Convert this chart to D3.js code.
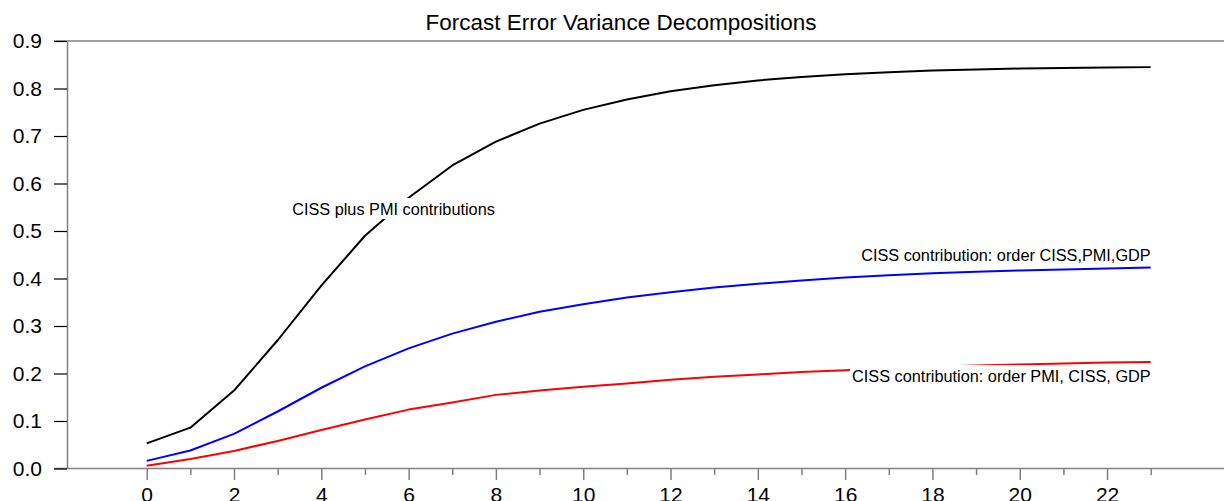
<!DOCTYPE html>
<html>
<head>
<meta charset="utf-8">
<script src="https://cdn.jsdelivr.net/npm/d3@7/dist/d3.min.js"></script>
<style>
  html, body { margin: 0; padding: 0; background: #fff; }
  svg { display: block; font-family: Arial, "Liberation Sans", Helvetica, sans-serif; }
</style>
</head>
<body>
<svg id="chart" width="1224" height="501"></svg>
<script>
// Forecast horizons (quarters)
const horizons = d3.range(0, 24);

// Share of forecast error variance explained
const cissPlusPmi = [0.053, 0.086, 0.164, 0.270, 0.385, 0.490, 0.570, 0.638, 0.688, 0.726, 0.755, 0.777,
                     0.794, 0.807, 0.817, 0.824, 0.830, 0.834, 0.838, 0.840, 0.842, 0.843, 0.844, 0.845];
const cissFirst   = [0.016, 0.038, 0.073, 0.120, 0.170, 0.215, 0.253, 0.284, 0.309, 0.330, 0.346, 0.360,
                     0.371, 0.381, 0.389, 0.396, 0.402, 0.407, 0.411, 0.414, 0.417, 0.419, 0.421, 0.423];
const cissSecond  = [0.006, 0.020, 0.037, 0.058, 0.081, 0.103, 0.124, 0.139, 0.155, 0.164, 0.172, 0.179,
                     0.187, 0.193, 0.198, 0.203, 0.207, 0.211, 0.214, 0.217, 0.219, 0.221, 0.223, 0.224];

const seriesLabels = ["CISS plus PMI contributions",
                      "CISS contribution: order CISS,PMI,GDP",
                      "CISS contribution: order PMI, CISS, GDP"];

const yTicks = [0, 0.1, 0.2, 0.3, 0.4, 0.5, 0.6, 0.7, 0.8, 0.9];
const xMajorTicks = d3.range(0, 24, 2);
const xMinorTicks = d3.range(1, 24, 2);

const titleText = "Forcast Error Variance Decompositions";

const svg = d3.select("#chart");
const W = 1224;

const x = d3.scaleLinear().domain([0, 23]).range([146.7, 1150.7]);
const y = d3.scaleLinear().domain([0, 0.9]).range([468.5, 41]);

const axisColor = "#808080";

// Title
svg.append("text")
  .attr("x", 621).attr("y", 30)
  .attr("text-anchor", "middle")
  .attr("font-size", 22.5)
  .attr("fill", "#000")
  .text(titleText);

// Horizontal frame lines at the bottom and top of the value range
[0, 0.9].forEach(v => {
  svg.append("line")
    .attr("x1", 54).attr("x2", W)
    .attr("y1", y(v)).attr("y2", y(v))
    .attr("stroke", axisColor).attr("stroke-width", 1.5);
});

// Y axis
const yAxis = d3.axisLeft(y)
  .tickValues(yTicks)
  .tickFormat(d3.format(".1f"))
  .tickSizeInner(13).tickSizeOuter(0).tickPadding(12);
const gy = svg.append("g").attr("transform", "translate(67,0)").call(yAxis);
gy.select(".domain").attr("stroke", axisColor).attr("stroke-width", 1.5);
gy.selectAll(".tick line").attr("stroke", "#000").attr("stroke-width", 1.2);
gy.selectAll(".tick text").attr("font-size", 21).attr("font-family", "Arial, 'Liberation Sans', sans-serif").attr("fill", "#000");

// X axis: labelled ticks on even horizons, short ticks on odd ones
const xAxis = d3.axisBottom(x)
  .tickValues(xMajorTicks)
  .tickFormat(d3.format("d"))
  .tickSizeInner(11.5).tickSizeOuter(0).tickPadding(7);
const gx = svg.append("g").attr("transform", `translate(0,${y(0)})`).call(xAxis);
gx.select(".domain").remove();
gx.selectAll(".tick line").attr("stroke", axisColor).attr("stroke-width", 1.5);
gx.selectAll(".tick text").attr("font-size", 21).attr("font-family", "Arial, 'Liberation Sans', sans-serif").attr("fill", "#000");

const xMinor = d3.axisBottom(x).tickValues(xMinorTicks).tickFormat("").tickSizeInner(6.5).tickSizeOuter(0);
const gxm = svg.append("g").attr("transform", `translate(0,${y(0)})`).call(xMinor);
gxm.select(".domain").remove();
gxm.selectAll(".tick line").attr("stroke", axisColor).attr("stroke-width", 1.5);

// Lines
const line = d3.line().x((d, i) => x(horizons[i])).y(d => y(d));
const series = [
  { values: cissPlusPmi, color: "#000000" },
  { values: cissFirst,   color: "#0000ff" },
  { values: cissSecond,  color: "#ff0000" }
];
series.forEach(s => {
  svg.append("path")
    .datum(s.values)
    .attr("d", line)
    .attr("fill", "none")
    .attr("stroke", s.color)
    .attr("stroke-width", 2)
    .attr("stroke-linejoin", "round");
});

// Annotations, drawn over a white box so they cut through the lines
function annotate(txt, px, py, anchor) {
  const g = svg.append("g");
  const t = g.append("text")
    .attr("x", px).attr("y", py)
    .attr("text-anchor", anchor)
    .attr("font-size", 16.3)
    .attr("fill", "#000")
    .text(txt);
  const bb = t.node().getBBox();
  g.insert("rect", "text")
    .attr("x", bb.x - 2).attr("y", bb.y - 2)
    .attr("width", bb.width + 4).attr("height", bb.height + 3)
    .attr("fill", "#fff");
}
annotate(seriesLabels[0], 393.5, 215, "middle");
annotate(seriesLabels[1], x(23), 261, "end");
annotate(seriesLabels[2], x(23), 382, "end");
</script>
</body>
</html>
